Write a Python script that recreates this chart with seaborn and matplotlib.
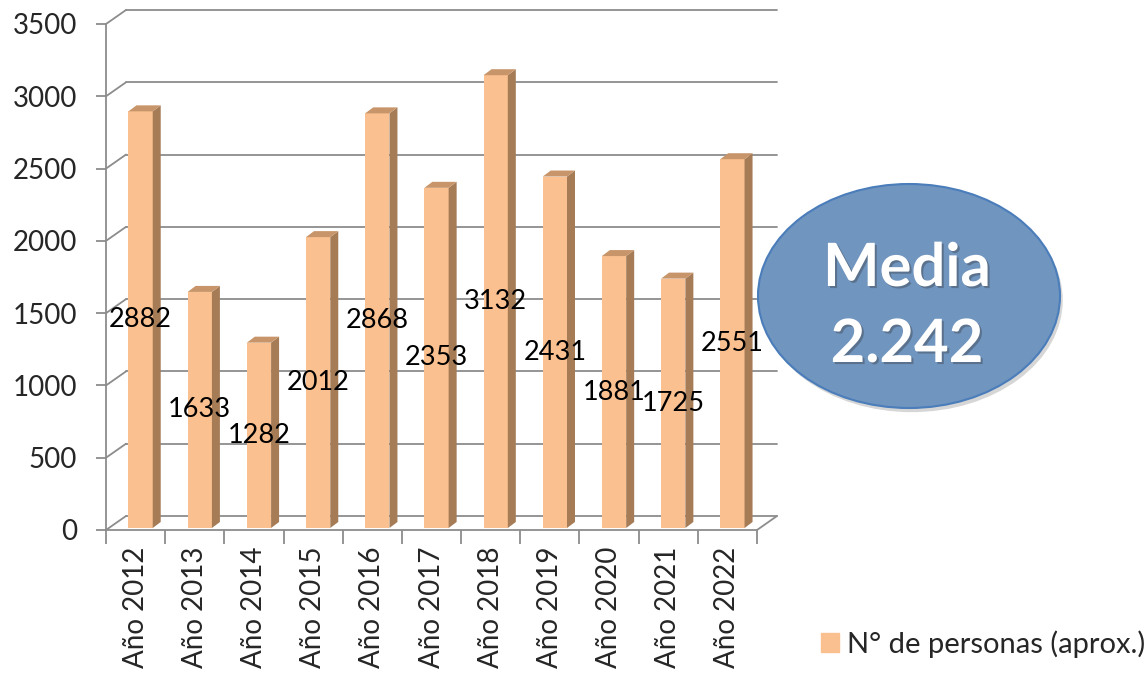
import matplotlib.patches as mpatches
import matplotlib.patheffects as pe
import matplotlib.pyplot as plt
import matplotlib.transforms as mtransforms
import pandas as pd
import seaborn as sns

years = ["Año 2012", "Año 2013", "Año 2014", "Año 2015", "Año 2016", "Año 2017",
         "Año 2018", "Año 2019", "Año 2020", "Año 2021", "Año 2022"]
personas = [2882, 1633, 1282, 2012, 2868, 2353, 3132, 2431, 1881, 1725, 2551]
y_ticks = [0, 500, 1000, 1500, 2000, 2500, 3000, 3500]
legend_label = "N° de personas (aprox.)"
media_text = ["Media", "2.242"]

front_color = "#FAC08F"
side_color = "#A67C57"
top_color = "#C8956A"
grid_color = "#8C8C8C"

sns.set_theme(style="white")
plt.rcParams["font.family"] = ["Lato", "DejaVu Sans"]

W, H = 1145, 677
fig = plt.figure(figsize=(W / 100, H / 100), dpi=100)
ax = fig.add_axes([106 / W, 147 / H, 651 / W, 506 / H])

df = pd.DataFrame({"anio": years, "personas": personas})
sns.barplot(data=df, x="anio", y="personas", color=front_color, saturation=1,
            width=0.41, linewidth=0, ax=ax, zorder=3)
ax.set_xlim(-0.5, len(years) - 0.5)
ax.set_ylim(0, 3500)

# pixel -> data conversion for the fake 3d look
px_x = 651 / len(years)
px_y = 506 / 3500
shift = 5 / px_x
dx, dy = 8 / px_x, 6 / px_y      # bar depth
bx, by = 20 / px_x, 14 / px_y    # back wall offset
lift = ax.transData + mtransforms.ScaledTranslation(0, 2 / 100, fig.dpi_scale_trans)

for p in list(ax.patches):
    p.set_x(p.get_x() + shift)
    p.set_transform(lift)
    x, w, h = p.get_x(), p.get_width(), p.get_height()
    side = mpatches.Polygon([(x + w, 0), (x + w + dx, dy), (x + w + dx, h + dy), (x + w, h)],
                            closed=True, facecolor=side_color, edgecolor="none", zorder=3,
                            transform=lift)
    top = mpatches.Polygon([(x, h), (x + dx, h + dy), (x + w + dx, h + dy), (x + w, h)],
                           closed=True, facecolor=top_color, edgecolor="none", zorder=3,
                           transform=lift)
    ax.add_patch(side)
    ax.add_patch(top)

# back wall gridlines + left diagonals
x0, x1 = -0.5, len(years) - 0.5
for v in y_ticks:
    ax.plot([x0 + bx, x1 + bx], [v + by, v + by], color=grid_color, lw=1.3, zorder=1, clip_on=False)
    ax.plot([x0, x0 + bx], [v, v + by], color=grid_color, lw=1.3, zorder=1, clip_on=False)
ax.plot([x1, x1 + bx], [0, by], color=grid_color, lw=1.3, zorder=1, clip_on=False)

# data labels at half height
for i, v in enumerate(personas):
    ax.text(i + shift, v / 2, str(v), ha="center", va="center", fontsize=19.5,
            color="black", zorder=5, transform=lift)

for s in ["top", "right"]:
    ax.spines[s].set_visible(False)
for s in ["left", "bottom"]:
    ax.spines[s].set_color(grid_color)
    ax.spines[s].set_linewidth(1.3)

ax.set_yticks(y_ticks)
ax.set_yticklabels([str(t) for t in y_ticks], fontsize=20)
ax.set_xticks(range(len(years)))
ax.set_xticklabels(years, rotation=90, fontsize=20)
ax.set_xticks([i - 0.5 for i in range(len(years) + 1)], minor=True)
ax.tick_params(axis="y", left=True, length=7, width=1.3, color=grid_color, pad=14)
ax.tick_params(axis="x", which="major", bottom=False, length=0, pad=12)
ax.tick_params(axis="x", which="minor", bottom=True, length=10, width=1.3, color=grid_color)
ax.set_xlabel("")
ax.set_ylabel("")

handle = mpatches.Patch(color=front_color, label=legend_label)
fig.legend(handles=[handle], loc="center left", bbox_to_anchor=(806 / W, 1 - 644 / H),
           frameon=False, fontsize=21, handlelength=0.62, handleheight=0.62,
           handletextpad=0.3, borderpad=0)

ell = mpatches.Ellipse((909 / W, 1 - 296 / H), 302 / W, 224 / H, transform=fig.transFigure,
                       facecolor="#7095BF", edgecolor="#4A7DBA", linewidth=1.5, zorder=10,
                       path_effects=[pe.SimplePatchShadow(offset=(2, -3), shadow_rgbFace="#999999",
                                                          alpha=0.4), pe.Normal()])
fig.patches.append(ell)
shadow = [pe.withSimplePatchShadow(offset=(1.5, -1.5), shadow_rgbFace="#333333", alpha=0.35)]
fig.text(907 / W, 1 - 269 / H, media_text[0], ha="center", va="center", fontsize=43,
         fontweight="bold", color="white", zorder=11, path_effects=shadow)
fig.text(907 / W, 1 - 345 / H, media_text[1], ha="center", va="center", fontsize=43,
         fontweight="bold", color="white", zorder=11, path_effects=shadow)

fig.savefig("out.png", dpi=100)
